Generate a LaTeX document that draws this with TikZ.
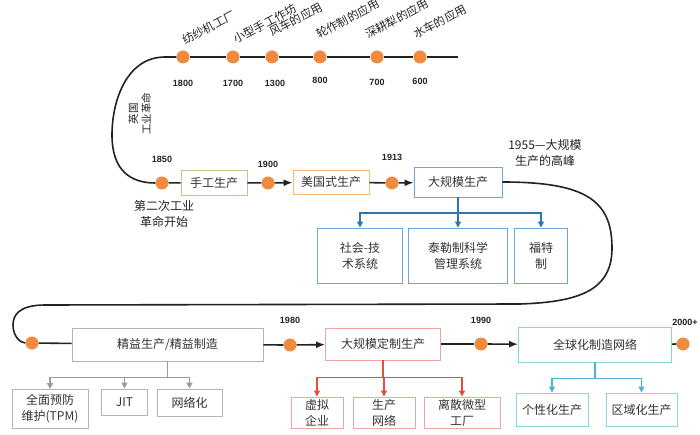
\documentclass[tikz,border=0pt]{standalone}
\usepackage{fontspec}
\setmainfont{Noto Sans CJK SC}
\setsansfont{Liberation Sans}
\usepackage{xcolor}
\definecolor{ink}{HTML}{222222}
\definecolor{txt}{HTML}{333333}
\definecolor{dotorange}{HTML}{F08A3C}
\definecolor{handgreen}{HTML}{A9D08E}
\definecolor{usaorange}{HTML}{F5B97A}
\definecolor{massblue}{HTML}{6EA6D8}
\definecolor{arrblue}{HTML}{2E75B6}
\definecolor{leangray}{HTML}{B4B2B2}
\definecolor{arrgray}{HTML}{9C9A9A}
\definecolor{custred}{HTML}{F2A59E}
\definecolor{arrred}{HTML}{E84C3D}
\definecolor{globcyan}{HTML}{8ED1E0}
\definecolor{arrcyan}{HTML}{4FB3C9}
\usepackage{tikz}
\usetikzlibrary{positioning,arrows.meta}

\begin{document}
\begin{tikzpicture}[x=1pt, y=-1pt,
    font=\fontsize{12}{16}\selectfont, text=txt,
    box/.style={draw, fill=white, line width=0.9pt, align=center, inner sep=0pt},
    dot/.style={circle, fill=dotorange, inner sep=0pt, minimum size=13pt},
    yr/.style={font=\sffamily\bfseries\fontsize{9}{10}\selectfont, text=ink, inner sep=0pt},
    era/.style={rotate=28, font=\fontsize{11.5}{12}\selectfont, text=ink, inner sep=0pt, anchor=south west},
    line/.style={draw=ink, line width=1.6pt},
    flow/.style={line, -{Latex[length=9pt, width=7pt]}},
    branch/.style={line width=1.3pt, -{Triangle[length=6pt, width=6pt]}}]
  \useasboundingbox (0,0) rectangle (700,435);

  % early timeline
  \node[dot] (d1800) at (183,57) {};
  \node[dot] (d1700) at (233,57) {};
  \node[dot] (d1300) at (272,57) {};
  \node[dot] (d800) at (320,57) {};
  \node[dot] (d700) at (377,57) {};
  \node[dot] (d600) at (420,57) {};
  \coordinate (topend) at (458,57);
  \node[yr, below=16pt of d1800] (y1800) {1800};
  \node[yr, below=16pt of d1700] (y1700) {1700};
  \node[yr, below=16pt of d1300, xshift=3pt] (y1300) {1300};
  \node[yr, below=13pt of d800] (y800) {800};
  \node[yr, below=15pt of d700] (y700) {700};
  \node[yr, below=14pt of d600] (y600) {600};
  \node[era] (spin) at (186,46) {纺纱机工厂};
  \node[era] (work) at (237,45) {小型手工作坊};
  \node[era] (wind) at (273,38) {风车的应用};
  \node[era] (rot) at (320,40) {轮作制的应用};
  \node[era] (plow) at (369,40) {深耕犁的应用};
  \node[era] (water) at (417,40) {水车的应用};
  \draw[line] (topend) -- (d600) -- (d700) -- (d800) -- (d1300) -- (d1700) -- (d1800);

  % industrial revolution
  \node[dot] (d1850) at (162,183) {};
  \node[yr, above=14pt of d1850] (y1850) {1850};
  \node[rotate=90, align=center, font=\fontsize{10.5}{13}\selectfont, text=ink]
    (uk) at (140,114) {英国\\工业革命};
  \node[align=center, text=ink] (second) at (164,214) {第二次工业\\革命开始};
  \draw[line] (d1800) -- (165,57) .. controls (127,57) and (112,100) .. (112,135)
    .. controls (112,170) and (130,183) .. (d1850);

  \node[box, draw=handgreen, minimum width=66pt, minimum height=25pt] (hand) at (214,182.5) {手工生产};
  \node[dot] (d1900) at (268,183) {};
  \node[yr, above=9pt of d1900] (y1900) {1900};
  \node[box, draw=usaorange, minimum width=76pt, minimum height=24pt] (usa) at (331,182) {美国式生产};
  \node[dot] (d1913) at (392,183) {};
  \node[yr, above=15pt of d1913] (y1913) {1913};
  \node[box, draw=massblue, minimum width=88pt, minimum height=30pt] (mass) at (458,182) {大规模生产};
  \node[align=center, text=ink] (peak) at (545,153) {1955—大规模\\生产的高峰};
  \draw[line] (d1850) -- (hand);
  \draw[line] (hand) -- (d1900);
  \draw[flow] (d1900) -- (usa);
  \draw[line] (usa) -- (d1913);
  \draw[flow] (d1913) -- (mass);

  \node[box, draw=massblue, minimum width=85pt, minimum height=55pt] (st) at (360,255.5) {社会-技\\术系统};
  \node[box, draw=massblue, minimum width=99pt, minimum height=55pt] (taylor) at (458,255.5) {泰勒制科学\\管理系统};
  \node[box, draw=massblue, minimum width=53pt, minimum height=55pt] (ford) at (541,255.5) {福特\\制};
  \foreach \c in {st, taylor, ford}
    \draw[branch, arrblue] (mass.south) -- ++(0,15.5) -| (\c.north);

  % modern timeline
  \node[dot] (dlean) at (32,343) {};
  \draw[line] (mass) .. controls (585,182) and (612,200) .. (612,248)
    .. controls (612,290) and (580,302) .. (520,304) -- (45,305)
    .. controls (18,305) and (13,316) .. (13,325)
    .. controls (13,337) and (21,343) .. (dlean);

  \node[box, draw=leangray, minimum width=191pt, minimum height=33pt] (lean) at (167.5,344.5) {精益生产/精益制造};
  \node[dot] (d1980) at (290,345) {};
  \node[yr, above=15pt of d1980] (y1980) {1980};
  \node[box, draw=custred, minimum width=115pt, minimum height=32pt] (custom) at (383,344) {大规模定制生产};
  \node[dot] (d1990) at (481,344) {};
  \node[yr, above=14pt of d1990] (y1990) {1990};
  \node[box, draw=globcyan, minimum width=153pt, minimum height=35pt] (global) at (595,344.5) {全球化制造网络};
  \node[dot] (d2000) at (683,344) {};
  \node[yr, above=12pt of d2000, xshift=2pt] (y2000) {2000+};
  \draw[line] (dlean) -- (lean);
  \draw[line] (lean) -- (d1980);
  \draw[flow] (d1980) -- (custom);
  \draw[line] (custom) -- (d1990);
  \draw[flow] (d1990) -- (global);
  \draw[line] (global) -- (d2000);

  \node[box, draw=leangray, minimum width=76pt, minimum height=39pt] (tpm) at (50,409) {全面预防\\维护(TPM)};
  \node[box, draw=leangray, minimum width=46pt, minimum height=26pt] (jit) at (124.5,402) {JIT};
  \node[box, draw=leangray, minimum width=65pt, minimum height=27pt] (net) at (189.5,402.5) {网络化};
  \foreach \c in {tpm, jit, net}
    \draw[branch, arrgray] (lean.south) -- ++(0,16) -| (\c.north);

  \node[box, draw=custred, minimum width=52pt, minimum height=31pt] (virt) at (317,412.5) {虚拟\\企业};
  \node[box, draw=custred, minimum width=62pt, minimum height=31pt] (prodnet) at (384,412.5) {生产\\网络};
  \node[box, draw=custred, minimum width=76pt, minimum height=31pt] (micro) at (462,412.5) {离散微型\\工厂};
  \foreach \c in {virt, prodnet, micro}
    \draw[branch, arrred] (custom.south) -- ++(0,17) -| (\c.north);

  \node[box, draw=globcyan, minimum width=72pt, minimum height=33pt] (pers) at (552,409.5) {个性化生产};
  \node[box, draw=globcyan, minimum width=71pt, minimum height=33pt] (reg) at (641.5,409.5) {区域化生产};
  \foreach \c in {pers, reg}
    \draw[branch, arrcyan] (global.south) -- ++(0,16) -| (\c.north);
\end{tikzpicture}
\end{document}
